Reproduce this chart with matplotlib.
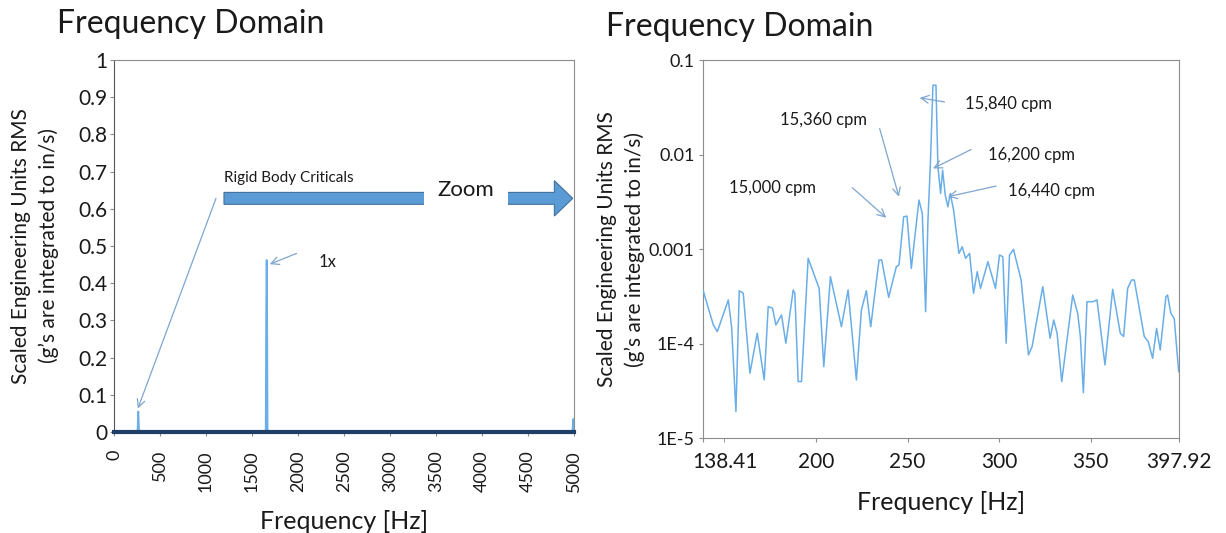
import matplotlib

matplotlib.use("Agg")
import matplotlib.pyplot as plt
import matplotlib.transforms as mtransforms
from matplotlib.patches import FancyArrow

plt.rcParams["font.family"] = ["Lato", "DejaVu Sans"]

# full-band spectrum, 0-5 kHz
full_freq = [0, 255, 260, 264, 268, 273, 1650, 1655, 1660, 1665, 1670, 4985, 4995, 5000]
full_amp = [0, 0, 0.03, 0.055, 0.03, 0, 0, 0.32, 0.462, 0.32, 0, 0, 0.035, 0]
full_xticks = list(range(0, 5001, 500))
full_yticks = [0, 0.1, 0.2, 0.3, 0.4, 0.5, 0.6, 0.7, 0.8, 0.9, 1]
full_ylabels = ["0", "0.1", "0.2", "0.3", "0.4", "0.5", "0.6", "0.7", "0.8", "0.9", "1"]

# zoomed spectrum around the running speed
zoom_freq = [
    138.41, 144.04, 146.22, 152.21, 154.02, 156.38, 158.20, 160.38, 164.01, 168.00,
    171.81, 173.99, 176.35, 178.17, 181.26, 183.62, 187.61, 188.52, 190.33, 192.15,
    195.78, 201.77, 204.31, 207.94, 213.94, 217.57, 222.10, 224.83, 227.55, 229.91,
    234.45, 235.90, 239.71, 243.89, 245.34, 247.88, 249.70, 252.06, 256.24, 258.05,
    259.87, 261.14, 262.41, 263.86, 265.50, 266.58, 268.04, 269.13, 270.58, 272.03,
    273.30, 275.12, 278.03, 279.84, 281.66, 283.84, 286.01, 288.01, 289.82, 293.82,
    297.99, 300.17, 301.99, 303.80, 305.62, 307.80, 311.97, 315.97, 317.96, 323.77,
    327.77, 329.76, 331.58, 334.12, 340.11, 342.83, 344.29, 345.92, 347.92, 351.00,
    353.36, 357.72, 361.90, 366.07, 367.89, 370.07, 372.25, 373.70, 379.15, 381.33,
    383.69, 385.87, 387.86, 390.95, 391.86, 393.67, 395.49, 397.92,
]
zoom_amp = [
    3.70e-4, 1.58e-4, 1.34e-4, 2.90e-4, 1.51e-4, 1.91e-5, 3.64e-4, 3.41e-4, 4.86e-5, 1.29e-4,
    4.13e-5, 2.47e-4, 2.37e-4, 1.58e-4, 2.01e-4, 1.01e-4, 3.70e-4, 3.41e-4, 3.97e-5, 3.97e-5,
    8.00e-4, 3.85e-4, 5.71e-5, 5.12e-4, 1.51e-4, 3.70e-4, 4.13e-5, 2.27e-4, 3.64e-4, 1.51e-4,
    7.67e-4, 7.67e-4, 3.09e-4, 6.53e-4, 6.79e-4, 2.20e-3, 2.24e-3, 6.26e-4, 3.31e-3, 2.39e-3,
    2.18e-4, 2.03e-3, 7.45e-3, 5.44e-2, 5.44e-2, 7.45e-3, 3.89e-3, 6.87e-3, 3.73e-3, 2.81e-3,
    3.89e-3, 2.59e-3, 9.03e-4, 1.06e-3, 8.00e-4, 9.03e-4, 3.41e-4, 5.78e-4, 3.85e-4, 7.37e-4,
    3.85e-4, 8.67e-4, 8.32e-4, 1.01e-4, 8.67e-4, 9.95e-4, 4.72e-4, 7.60e-5, 9.31e-5, 4.01e-4,
    1.14e-4, 1.78e-4, 1.29e-4, 3.97e-5, 3.27e-4, 2.09e-4, 1.19e-4, 3.03e-5, 2.78e-4, 2.78e-4,
    2.90e-4, 5.96e-5, 3.76e-4, 1.29e-4, 1.19e-4, 3.85e-4, 4.72e-4, 4.72e-4, 1.19e-4, 1.05e-4,
    7.00e-5, 1.45e-4, 8.57e-5, 3.14e-4, 3.27e-4, 2.09e-4, 1.85e-4, 5.06e-5,
]
zoom_xticks = [138.41, 200, 250, 300, 350, 397.92]
zoom_xlabels = ["138.41", "200", "250", "300", "350", "397.92"]
zoom_yticks = [1e-5, 1e-4, 1e-3, 1e-2, 1e-1]
zoom_ylabels = ["1E-5", "1E-4", "0.001", "0.01", "0.1"]

# peak call-outs: label, text anchor, arrow tail, arrow head
peak_labels = ["15,000 cpm", "15,360 cpm", "15,840 cpm", "16,200 cpm", "16,440 cpm"]
peak_text = [(152.75, 4.4e-3), (180.3, 0.0232), (281.1, 0.0348), (293.8, 9.89e-3), (304.7, 4.12e-3)]
peak_tail = [(219.9, 4.47e-3), (234.8, 0.0189), (270.2, 0.0362), (284.7, 0.01135), (298.4, 4.66e-3)]
peak_head = [(238.4, 2.15e-3), (245.3, 3.59e-3), (256.6, 0.040), (263.9, 7.15e-3), (272.0, 3.59e-3)]

LINE = "#6aaee8"
NOTE = "#7ea6cf"
TEXT = "#1a1a1a"
SPINE = "#8c8c8c"

fig = plt.figure(figsize=(12.26, 5.33), dpi=100)
ax1 = fig.add_axes([0.093, 0.1895, 0.375, 0.698])
ax2 = fig.add_axes([0.5734, 0.178, 0.388, 0.709])

ylabel = "Scaled Engineering Units RMS\n(g\u2019s are integrated to in/s)"

# --- full band ---
ax1.plot(full_freq, full_amp, color=LINE, lw=1.3, zorder=3)
ax1.set_xlim(0, 5000)
ax1.set_ylim(0, 1)
ax1.set_xticks(full_xticks)
ax1.set_xticklabels([str(t) for t in full_xticks], rotation=90, fontsize=13, color=TEXT)
ax1.set_yticks(full_yticks)
ax1.set_yticklabels(full_ylabels, fontsize=15, color=TEXT)
ax1.set_xlabel("Frequency [Hz]", fontsize=18, color=TEXT)
ax1.xaxis.set_label_coords(0.5, -0.21)
ax1.set_ylabel(ylabel, fontsize=15, color=TEXT, linespacing=1.45)
ax1.yaxis.set_label_coords(-0.12, 0.5)
for side in ("top", "right"):
    ax1.spines[side].set_color(SPINE)
ax1.spines["left"].set_color("#555555")
ax1.spines["bottom"].set_color("#1f3f66")
ax1.spines["bottom"].set_linewidth(3)
ax1.spines["bottom"].set_zorder(4)
ax1.tick_params(axis="y", length=3, color=SPINE, pad=2)
ax1.tick_params(axis="x", length=3, color=SPINE, pad=10)

ax1.add_patch(FancyArrow(1196, 0.628, 3793, 0, width=0.032, head_width=0.095,
                         head_length=200, length_includes_head=True,
                         facecolor="#5b9bd5", edgecolor="#41719c", lw=0.8,
                         clip_on=False, zorder=5))
ax1.text(3830, 0.65, "Zoom", fontsize=16, color=TEXT, ha="center", va="center", zorder=6,
         bbox=dict(boxstyle="square,pad=0.6", fc="white", ec="none"))
ax1.text(1196, 0.682, "Rigid Body Criticals", fontsize=11, color=TEXT, ha="left", va="center")
ax1.annotate("", xy=(259, 0.063), xytext=(1109, 0.628),
             arrowprops=dict(arrowstyle="->", color=NOTE, lw=0.9, shrinkA=0, shrinkB=0,
                             mutation_scale=14))
ax1.text(2230, 0.457, "1x", fontsize=12, color=TEXT, ha="left", va="center")
ax1.annotate("", xy=(1694, 0.451), xytext=(1985, 0.48),
             arrowprops=dict(arrowstyle="->", color=NOTE, lw=0.9, shrinkA=0, shrinkB=0,
                             mutation_scale=14))

# --- zoomed band ---
ax2.plot(zoom_freq, zoom_amp, color=LINE, lw=1.1, zorder=3)
ax2.set_yscale("log")
ax2.set_xlim(138.41, 397.92)
ax2.set_ylim(1e-5, 1e-1)
ax2.set_xticks(zoom_xticks)
ax2.set_xticklabels(zoom_xlabels, fontsize=15, color=TEXT)
ax2.set_xticks([150], minor=True)
ax2.set_yticks(zoom_yticks)
ax2.set_yticklabels(zoom_ylabels, fontsize=13, color=TEXT)
ax2.yaxis.set_minor_locator(matplotlib.ticker.NullLocator())
ax2.set_xlabel("Frequency [Hz]", fontsize=18, color=TEXT)
ax2.xaxis.set_label_coords(0.5, -0.14)
ax2.set_ylabel(ylabel, fontsize=15, color=TEXT, linespacing=1.45)
ax2.yaxis.set_label_coords(-0.122, 0.5)
for spine in ax2.spines.values():
    spine.set_color(SPINE)
ax2.tick_params(which="both", length=3, color=SPINE, pad=7)
ax2.tick_params(axis="y", pad=3)

# first x label sits under the 150 Hz tick
shift = mtransforms.ScaledTranslation(22 / 100, 0, fig.dpi_scale_trans)
first = ax2.get_xticklabels()[0]
first.set_transform(first.get_transform() + shift)

for label, txt, tail, head in zip(peak_labels, peak_text, peak_tail, peak_head):
    ax2.text(txt[0], txt[1], label, fontsize=12, color=TEXT, ha="left", va="center")
    ax2.annotate("", xy=head, xytext=tail,
                 arrowprops=dict(arrowstyle="->", color=NOTE, lw=0.9, shrinkA=0, shrinkB=0,
                                 mutation_scale=14))

fig.text(57 / 1226, 1 - 24 / 533, "Frequency Domain", fontsize=23, color=TEXT, va="center")
fig.text(606 / 1226, 1 - 27 / 533, "Frequency Domain", fontsize=23, color=TEXT, va="center")

fig.savefig("out.png", dpi=100, facecolor="white")
